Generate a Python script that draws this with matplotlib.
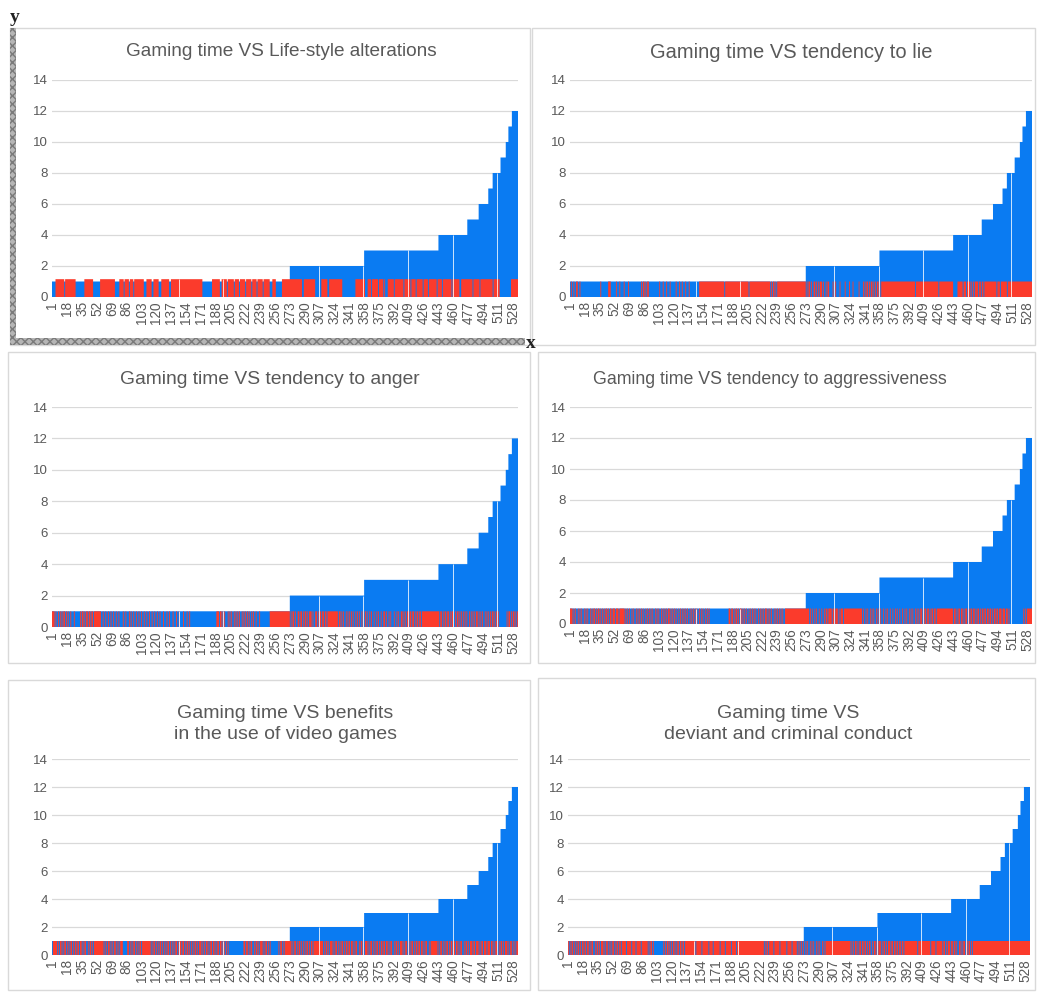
import numpy as np
import matplotlib.pyplot as plt
from matplotlib.patches import Rectangle

# ---- data ----
titles = [
    "Gaming time VS Life-style alterations",
    "Gaming time VS tendency to lie",
    "Gaming time VS tendency to anger",
    "Gaming time VS tendency to aggressiveness",
    "Gaming time VS benefits\nin the use of video games",
    "Gaming time VS\ndeviant and criminal conduct",
]

# gaming time (hours) is sorted ascending: level and how many subjects have it
gaming_levels = [1, 2, 3, 4, 5, 6, 7, 8, 9, 10, 11, 12]
gaming_counts = [272, 85, 85, 33, 13, 11, 5, 9, 6, 3, 4, 7]

x_tick_labels = [1, 18, 35, 52, 69, 86, 103, 120, 137, 154, 171, 188, 205, 222,
                 239, 256, 273, 290, 307, 324, 341, 358, 375, 392, 409, 426,
                 443, 460, 477, 494, 511, 528]

# yes(1) / no(0) answer per subject, same order as gaming time, 10 per block
resp_lifestyle = """
0000111111 1111011111 1111111000 0000000111 1111111000 0000011111 1111111111 1100000111
1101111101 1110111111 1111100011 1111001111 1100011111 1111001111 1111111111 1111111111
1111111111 1100000000 0001111111 1100111111 0111111101 1111011111 1011111101 1111011111
1011111110 0011110000 0001111111 1111111111 1111110011 1111111111 1000000011 1111100111
1111111111 1100000000 0000000111 1111111100 0111101111 1110111110 1000111111 1011111111
1101111111 0111110111 1111011111 0111111111 0111110111 1111111011 1111110011 1111111111
1011111110 1111111111 1111011111 1100000000 0000011111 111
"""
resp_lie = """
0100100110 0100000000 0000000000 0000010000 0000111000 0001000100 0010000100 0000000000
0010110101 1000000000 0001000100 0100010000 0010001001 0001000100 0000000001 1111111111
1111111111 1111111101 1111111111 1111111111 1111110111 1111111111 1111111111 1010110101
1111111111 1111111111 1111111111 1101011010 0110101011 1010010110 0001001000 0100000100
0010001000 0001000010 1011010110 1010110101 1111111111 1111111111 1111111111 1111111101
1111111111 1111111111 1111101111 1111111111 1100000111 1110111011 1101010111 1011011011
1111111111 1101110111 1111011111 1111111111 1111111111 111
"""
resp_anger = """
1110100101 0101101010 0100010000 0010110101 1011011011 1111110010 0100100100 1001001000
0100100010 1001001001 0010010010 0100100100 1001000100 0100100010 0010010000 1000100100
0000000000 0000000000 0000000011 1011010100 0101010010 1010100101 0101010010 1001000100
0000000001 1111111111 1111111111 1101011010 0110110101 1010111010 0110101101 1011011111
1111111011 0101001010 1010100101 0100101010 1001010010 0101001001 1010010100 0100101001
1010101101 1011010110 1101111111 1111111111 1110110101 1011010110 0101101010 1010100101
0101011010 1010010101 0101101010 1000000000 1011010110 101
"""
resp_aggressive = """
1110101001 0101001010 1001010110 1011010101 0110101101 1101110111 1110101010 0101001010
1010100101 0101010010 1010010101 0101101010 1010010101 0101010010 1010101001 0101001010
1000000000 0000000000 0001101101 0110101101 0101001010 1010100101 0101011010 1010010101
0101010011 1111111111 1111111111 1111110101 0010100100 1001011011 1101101110 1011101111
1111111111 1111111010 0101001010 1001010010 0100101001 0010010100 1001001010 0101010010
1010110101 1011010110 1101111111 1111111111 1101101011 0110101101 1011011010 1101011011
0110110101 1011011101 1101101000 0000000000 0001010111 111
"""
resp_benefits = """
0111110101 1010110101 0110101101 1011010110 0101101011 1111111110 1010110101 0110101011
1000001101 0101101010 1101111111 1110101101 0101101010 1011010101 0110101101 1010110101
0101101011 1010101101 0110110101 1011010101 0100000000 0000000001 1011010110 0101101011
1010110101 0000000001 0110101111 1111010110 1011010101 0110101101 1111111111 0101101011
1010110101 0110101101 1011010110 0101101011 1010110101 0110101101 1011010110 0101101011
1010110101 0110101101 1011010110 0101111111 1010110101 0110101101 1011010110 0101101011
1011011101 0110111011 1011010110 0101101011 1010110101 011
"""
resp_deviant = """
1010110101 0110101101 1011010110 0101101011 1010110101 0110101101 1011111011 1110111101
1111011111 1101011010 0000000000 1010110101 0110101101 1011011111 1111111011 1111011111
1101111011 1111101111 1011111101 1111011111 1111111111 1111111111 1111110101 1011111011
1111011111 1101111101 1111010101 0100101001 0101001010 1001010111 1111111111 1111111111
1111110101 0110101101 1011010110 0101101011 1010110101 1101101101 1011011011 1111111111
1110111111 1111111101 1111011111 1101101011 1011011010 0110101101 1011010111 1111111111
1111111111 1111111111 1111111111 1111111111 1111111111 111
"""
responses = [resp_lifestyle, resp_lie, resp_anger, resp_aggressive,
             resp_benefits, resp_deviant]
# height at which the answer bars are drawn in each chart
response_height = [1.15, 1, 1, 1, 1, 1]

# thin white seams visible between some columns
seam_positions = [145, 196, 305, 356, 407, 459, 509]

# ---- layout (pixels of the 1037 x 992 picture) ----
W, H = 1037, 992
frame_px = [(10, 28, 530, 345), (532, 28, 1035, 345),
            (8, 352, 530, 663), (538, 352, 1035, 663),
            (8, 680, 530, 990), (538, 678, 1035, 990)]
axes_px = [(52, 80, 518, 297), (570, 80, 1032, 297),
           (52, 407, 518, 627), (570, 407, 1032, 624),
           (52, 759, 518, 955), (568, 759, 1030, 955)]
title_xy_px = [(281, 52), (791, 52), (270, 380), (770, 380),
               (285, 724), (788, 724)]
title_size = [13.7, 14.5, 13.9, 12.8, 14.0, 14.0]

BLUE = "#0a7bf2"
RED = "#fb3b2c"
GRID = "#d9d9d9"
TEXT = "#595959"

plt.rcParams["font.family"] = ["Liberation Sans", "DejaVu Sans"]

gaming = np.repeat(gaming_levels, gaming_counts)
N = len(gaming)
x = np.arange(1, N + 1)
edges = np.arange(N + 1) + 0.5


def fx(px):
    return px / W


def fy(py):
    return 1 - py / H


def parse(text):
    s = "".join(text.split())
    s = s.ljust(N, s[-1])[:N]
    return np.array([c == "1" for c in s])


def runs(flags):
    d = np.diff(np.concatenate([[0], flags.astype(int), [0]]))
    starts = np.where(d == 1)[0]
    ends = np.where(d == -1)[0]
    return starts, ends - starts


fig = plt.figure(figsize=(W / 100, H / 100), dpi=100)

for i in range(6):
    x0, y0, x1, y1 = frame_px[i]
    fig.patches.append(Rectangle((fx(x0), fy(y1)), fx(x1 - x0), (y1 - y0) / H,
                                 transform=fig.transFigure, fill=False,
                                 edgecolor=GRID, lw=1.0))

    a0, b0, a1, b1 = axes_px[i]
    ax = fig.add_axes([fx(a0), fy(b1), fx(a1 - a0), (b1 - b0) / H])

    ax.stairs(gaming, edges, fill=True, color=BLUE, lw=0, zorder=2)
    resp = parse(responses[i])
    st, ln = runs(resp)
    bars = ax.bar(edges[st], np.full(len(st), response_height[i]), width=ln,
                  align="edge", color=RED, lw=0, zorder=3)
    for b in bars:
        b.set_snap(False)
    seams = np.array(seam_positions)
    tops = np.maximum(gaming[seams - 1], resp[seams - 1] * response_height[i])
    ax.vlines(seams + 0.5, 0, tops, colors="white", lw=0.7, alpha=0.8, zorder=4)

    ax.set_xlim(0.5, N + 0.5)
    ax.set_ylim(0, 14)
    ax.set_yticks(range(0, 15, 2))
    ax.grid(axis="y", color=GRID, lw=0.9)
    ax.set_axisbelow(True)
    for sp in ax.spines.values():
        sp.set_visible(False)
    ax.set_xticks(x_tick_labels)
    ax.set_xticklabels([str(v) for v in x_tick_labels], rotation=90)
    ax.tick_params(axis="x", length=0, colors=TEXT, labelsize=9.8, pad=3)
    ax.tick_params(axis="y", length=0, colors=TEXT, labelsize=9.5, pad=3)

    tx, ty = title_xy_px[i]
    fig.text(fx(tx), fy(ty), titles[i], ha="center", va="center", color=TEXT,
             fontsize=title_size[i], linespacing=1.3)

# textured frame and axis letters on the first chart
fig.patches.append(Rectangle((fx(10), fy(340)), fx(6), 312 / H,
                             transform=fig.transFigure, facecolor="#b5b5b5",
                             edgecolor="#7a7a7a", hatch="xxxx", lw=0))
fig.patches.append(Rectangle((fx(10), fy(345)), fx(515), 7 / H,
                             transform=fig.transFigure, facecolor="#b5b5b5",
                             edgecolor="#7a7a7a", hatch="xxxx", lw=0))
fig.text(fx(15), fy(18), "y", ha="center", va="center", fontsize=14,
         fontweight="bold", family="Liberation Serif", color="#222222")
fig.text(fx(531), fy(343), "x", ha="center", va="center", fontsize=14,
         fontweight="bold", family="Liberation Serif", color="#222222")

fig.savefig("out.png", dpi=100)
